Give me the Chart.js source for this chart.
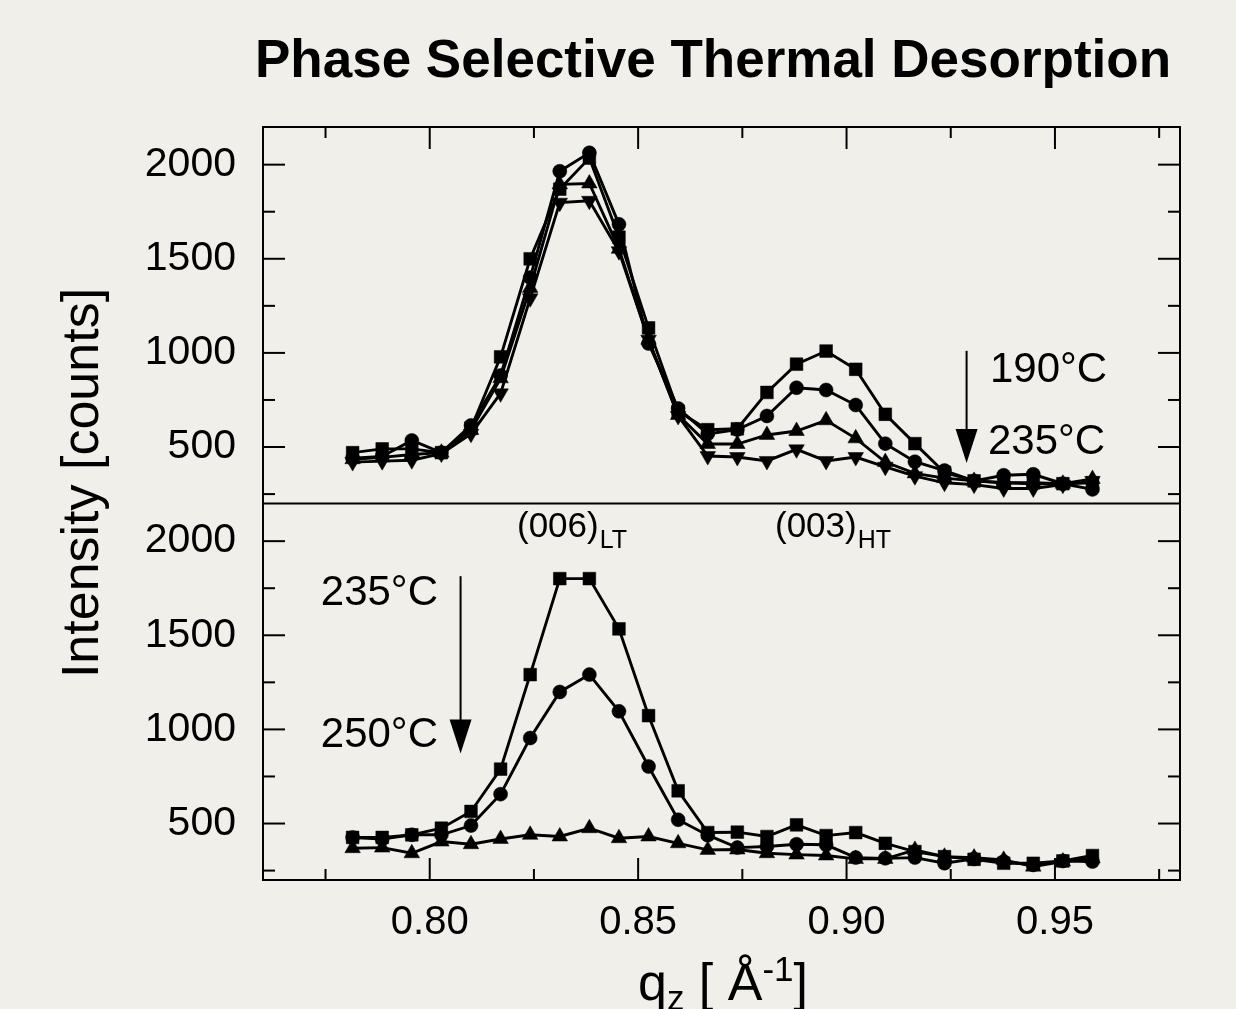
<!DOCTYPE html>
<html><head><meta charset="utf-8">
<script src="https://cdn.jsdelivr.net/npm/chart.js@4.4.1/dist/chart.umd.min.js"></script>
<style>html,body{margin:0;padding:0;background:#f0efe9;overflow:hidden}canvas{display:block}</style>
</head><body>
<canvas id="c" width="1236" height="1009"></canvas>
<script>
// ---- data ----
const qz = [0.7815, 0.7886, 0.7957, 0.8028, 0.8099, 0.8170, 0.8241, 0.8312, 0.8383, 0.8454, 0.8525, 0.8596, 0.8667,
            0.8738, 0.8809, 0.8880, 0.8951, 0.9022, 0.9093, 0.9164, 0.9235, 0.9306, 0.9377, 0.9448, 0.9519, 0.9590];
// upper panel: 190 C -> 235 C
const top190 = [470, 490, 490, 470, 600, 979, 1500, 1870, 2035, 1615, 1133, 690, 592, 597, 790, 940, 1010, 913, 674, 518, 365, 320, 310, 310, 305, 310];
const topB   = [440, 450, 535, 470, 615, 880, 1400, 1965, 2063, 1683, 1050, 705, 570, 593, 665, 815, 803, 723, 518, 422, 375, 320, 350, 355, 305, 275];
const topC   = [435, 445, 460, 470, 590, 865, 1345, 1895, 1900, 1553, 1070, 670, 516, 516, 564, 585, 642, 546, 420, 360, 335, 320, 310, 305, 305, 330];
const top235 = [420, 425, 430, 465, 570, 785, 1290, 1798, 1808, 1540, 1070, 665, 452, 447, 426, 488, 426, 447, 395, 345, 310, 300, 280, 280, 300, 320];
// lower panel: 235 C -> 250 C
const bot235 = [426, 426, 440, 475, 564, 789, 1291, 1801, 1801, 1534, 1073, 674, 452, 454, 431, 493, 436, 452, 395, 351, 324, 310, 289, 289, 301, 330];
const botB   = [426, 418, 440, 440, 489, 656, 954, 1199, 1291, 1096, 803, 520, 438, 372, 378, 390, 387, 319, 315, 319, 289, 312, 298, 280, 301, 298];
const bot250 = [369, 372, 342, 404, 390, 418, 440, 431, 475, 422, 431, 395, 360, 362, 342, 335, 330, 312, 312, 360, 324, 319, 307, 271, 298, 315];
const yTicks = [500, 1000, 1500, 2000];
const yMinorTicks = [250, 750, 1250, 1750];
const xTicks = [0.80, 0.85, 0.90, 0.95];
const xMinorTicks = [0.775, 0.825, 0.875, 0.925, 0.975];

const FONT = '"Liberation Sans", Arial, sans-serif';
const BG = '#f0efe9';

function series(vals, style, axis, rot, r) {
  return {
    data: qz.map((q, i) => ({x: q, y: vals[i]})),
    yAxisID: axis,
    borderColor: '#000', backgroundColor: '#000',
    borderWidth: 2.9, tension: 0,
    pointStyle: style, pointRotation: rot || 0,
    pointRadius: r, pointBorderWidth: 0.5, pointBorderColor: '#000', pointBackgroundColor: '#000'
  };
}

const deco = {
  id: 'deco',
  beforeDraw(chart) {
    const ctx = chart.ctx;
    ctx.save(); ctx.fillStyle = BG; ctx.fillRect(0, 0, chart.width, chart.height); ctx.restore();
  },
  afterDraw(chart) {
    const {ctx, chartArea: a, scales} = chart;
    const X = scales.x, yT = scales.yTop, yB = scales.yBot;
    ctx.save();
    ctx.strokeStyle = '#000'; ctx.fillStyle = '#000'; ctx.lineWidth = 2;
    const line = (x1, y1, x2, y2) => { ctx.beginPath(); ctx.moveTo(x1, y1); ctx.lineTo(x2, y2); ctx.stroke(); };
    ctx.strokeRect(a.left, a.top, a.right - a.left, a.bottom - a.top);
    line(a.left, yT.bottom, a.right, yT.bottom);
    for (const s of [yT, yB]) {
      for (const v of yTicks) { const p = s.getPixelForValue(v); line(a.left, p, a.left + 22, p); line(a.right, p, a.right - 22, p); }
      for (const v of yMinorTicks) { const p = s.getPixelForValue(v); line(a.left, p, a.left + 12, p); line(a.right, p, a.right - 12, p); }
    }
    for (const v of xTicks) { const p = X.getPixelForValue(v); line(p, a.bottom, p, a.bottom - 22); line(p, a.top, p, a.top + 22); }
    for (const v of xMinorTicks) { const p = X.getPixelForValue(v); line(p, a.bottom, p, a.bottom - 11); line(p, a.top, p, a.top + 11); }

    // arrows
    const arrow = (xv, s, v1, v2) => {
      const px = X.getPixelForValue(xv), y1 = s.getPixelForValue(v1), y2 = s.getPixelForValue(v2);
      line(px, y1, px, y2 - 30);
      ctx.beginPath(); ctx.moveTo(px - 11, y2 - 34); ctx.lineTo(px + 11, y2 - 34); ctx.lineTo(px, y2); ctx.closePath(); ctx.fill();
    };
    arrow(0.9288, yT, 1011, 415);
    arrow(0.8074, yB, 1814, 872);

    ctx.textBaseline = 'alphabetic';
    const text = (t, x, y, size, align, weight) => {
      ctx.font = (weight || '') + ' ' + size + 'px ' + FONT; ctx.textAlign = align || 'left'; ctx.fillText(t, x, y);
      return ctx.measureText(t).width;
    };
    text('190°C', 990, 382, 42);
    text('235°C', 988, 454, 42);
    text('235°C', 438, 605, 42, 'right');
    text('250°C', 438, 747, 42, 'right');
    let w = text('(006)', 517, 537, 35); text('LT', 517 + w + 1, 548, 25);
    w = text('(003)', 775, 537, 35); text('HT', 775 + w + 1, 548, 25);

    // title
    text('Phase Selective Thermal Desorption', 713, 77, 53, 'center', 'bold');
    // y title
    ctx.save(); ctx.translate(98, 483); ctx.rotate(-Math.PI / 2);
    text('Intensity [counts]', 0, 0, 52, 'center'); ctx.restore();
    // x title
    let x0 = 638;
    x0 += text('q', x0, 1000, 52);
    x0 += text('z', x0, 1010, 35);
    x0 += text(' [ Å', x0, 1000, 52);
    x0 += text('-1', x0, 981, 35);
    text(']', x0, 1000, 52);
    ctx.restore();
  }
};

const yCommon = {
  type: 'linear', position: 'left', stack: 'panels', stackWeight: 1,
  min: 200, max: 2200,
  grid: {display: false}, border: {display: false},
  ticks: {color: '#000', padding: 19, font: {family: FONT, size: 41}, callback: v => String(v)},
  afterBuildTicks: ax => { ax.ticks = yTicks.map(v => ({value: v})); },
  afterFit: ax => { ax.width = 263; }
};

new Chart(document.getElementById('c'), {
  type: 'line',
  data: {
    datasets: [
      series(top190, 'rect', 'yTop', 0, 9),
      series(topB, 'circle', 'yTop', 0, 7),
      series(topC, 'triangle', 'yTop', 0, 9),
      series(top235, 'triangle', 'yTop', 180, 9),
      series(bot235, 'rect', 'yBot', 0, 9),
      series(botB, 'circle', 'yBot', 0, 7),
      series(bot250, 'triangle', 'yBot', 0, 9)
    ]
  },
  options: {
    responsive: false, animation: false, events: [],
    layout: {padding: {top: 127, right: 56, left: 0, bottom: 0}},
    plugins: {legend: {display: false}, tooltip: {enabled: false}, title: {display: false}},
    scales: {
      x: {
        type: 'linear', min: 0.76, max: 0.98,
        grid: {display: false}, border: {display: false},
        ticks: {color: '#000', padding: 11, maxRotation: 0, font: {family: FONT, size: 40}, callback: v => v.toFixed(2)},
        afterBuildTicks: ax => { ax.ticks = xTicks.map(v => ({value: v})); },
        afterFit: ax => { ax.height = 129; }
      },
      yTop: Object.assign({}, yCommon, {weight: 2}),
      yBot: Object.assign({}, yCommon, {weight: 1})
    }
  },
  plugins: [deco]
});
</script>
</body></html>
